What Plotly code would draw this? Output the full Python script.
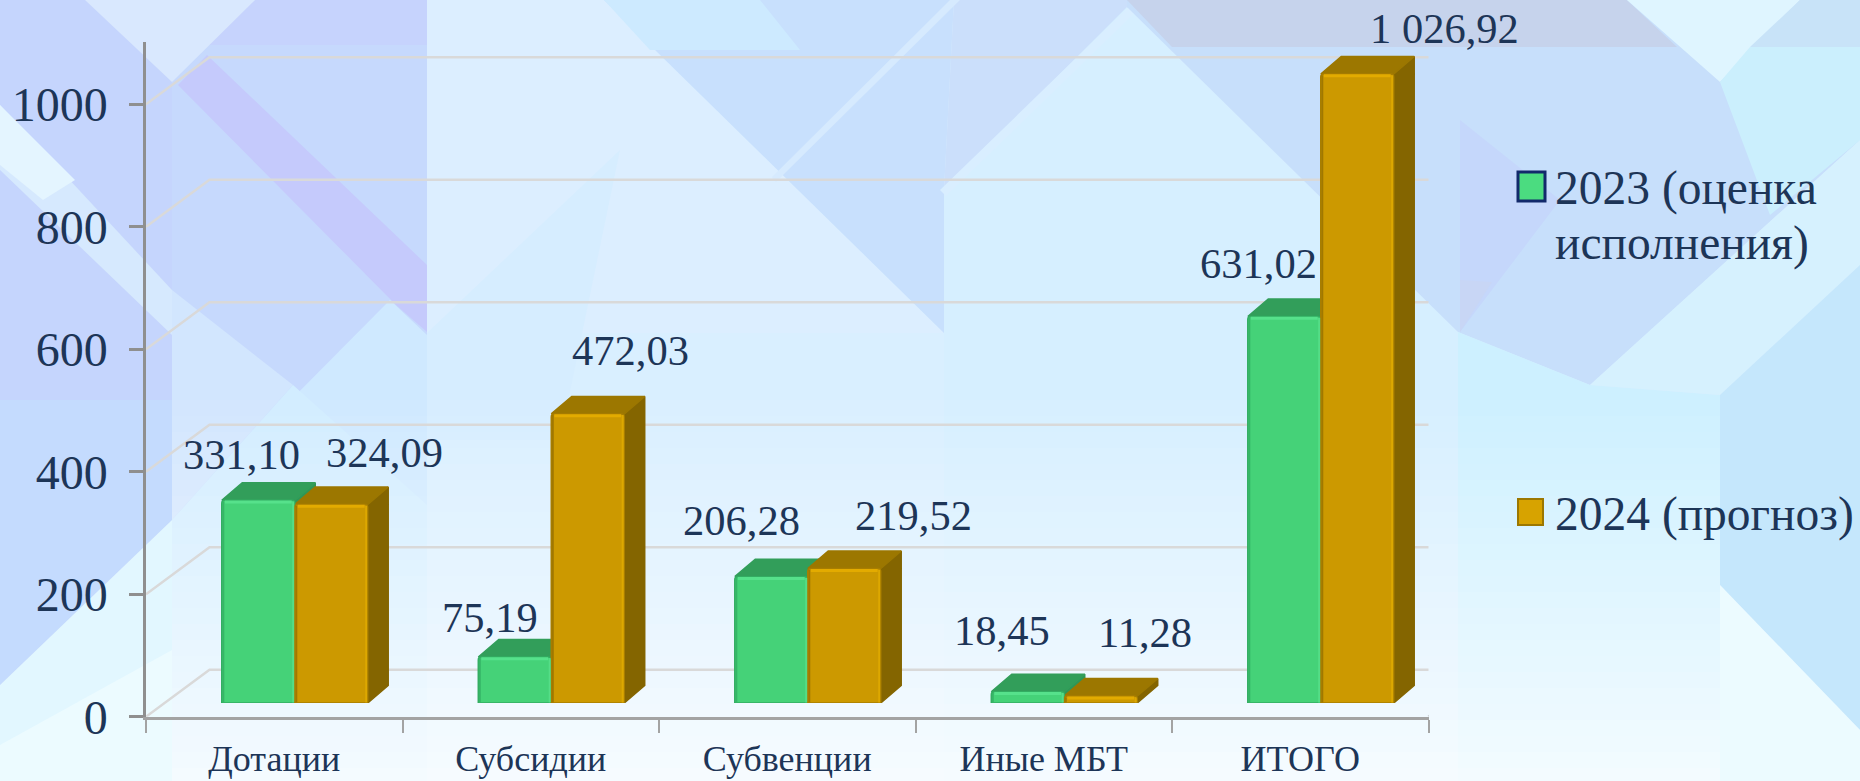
import plotly.graph_objects as go

# ---------- data ----------
categories = ["Дотации", "Субсидии", "Субвенции", "Иные МБТ", "ИТОГО"]
values_2023 = [331.10, 75.19, 206.28, 18.45, 631.02]
values_2024 = [324.09, 472.03, 219.52, 11.28, 1026.92]
labels_2023 = ["331,10", "75,19", "206,28", "18,45", "631,02"]
labels_2024 = ["324,09", "472,03", "219,52", "11,28", "1 026,92"]
y_ticks = [0, 200, 400, 600, 800, 1000]
legend_2023 = ["2023 (оценка", "исполнения)"]
legend_2024 = "2024 (прогноз)"

# ---------- layout constants ----------
W, H = 1860, 781
FONT = "Liberation Serif"
INK = "#1d3557"
AX_L, AX_R = 146.0, 1428.5      # front plane, x
Y0, Y_TOP = 716.7, 42.0         # front plane, y of value 0 and axis top
PX = 0.6125                     # pixels per unit
CAT = (AX_R - AX_L) / 5
Y_MAX = (Y0 - Y_TOP) / PX
WALL_DX, WALL_DY = 63.5 / CAT, 47.0 / PX
BAR_SHIFT_X, BAR_SHIFT_Y = 20.5, 13.7
BAR_W = 0.2845
FACE_DX, FACE_DY = 20.5 / CAT, 17.5 / PX
GREEN, GREEN_TOP, GREEN_SIDE = "#45d278", "#329e5a", "#2f9656"
GOLD, GOLD_TOP, GOLD_SIDE = "#cc9900", "#9c7700", "#846500"


def px_x(v):
    return v / W


def px_y(v):
    return 1 - v / H


# ---------- background (decorative pattern, pixel polygons) ----------
BG = [
    # left column
    ((0, 0, 172, 0, 172, 781, 0, 781), "#c5d5fd"),
    ((0, 400, 172, 400, 172, 520, 0, 685), "#c4dbfe"),
    ((0, 105, 172, 290, 172, 335, 0, 170), "#d6e9fe"),
    ((0, 105, 75, 180, 43, 200, 0, 165), "#e4f5ff"),
    ((0, 685, 172, 520, 172, 781, 0, 781), "#e2f7ff"),
    ((0, 745, 172, 650, 172, 781, 0, 781), "#ecfbff"),
    # upper block
    ((172, 0, 427, 0, 427, 560, 172, 520), "#c6d9fd"),
    ((255, 0, 427, 0, 427, 45, 200, 45), "#c6d3fd"),
    ((85, 0, 255, 0, 172, 82), "#d9e8fe"),
    ((172, 290, 293, 385, 172, 520), "#d2e6fe"),
    ((178, 85, 207, 55, 427, 265, 427, 332, 396, 305), "#c5cafc"),
    # lower left block
    ((172, 520, 390, 300, 427, 335, 427, 781, 172, 781), "#cfe9ff"),
    ((293, 385, 427, 505, 427, 781, 172, 781, 172, 520), "#d2edff"),
    # centre
    ((427, 0, 1132, 0, 1132, 781, 427, 781), "#d9efff"),
    ((427, 0, 604, 0, 944, 333, 427, 333), "#dceeff"),
    ((427, 333, 620, 150, 560, 440, 427, 440), "#d6edff"),
    ((604, 0, 954, 0, 944, 190, 944, 333), "#c8e0fd"),
    ((604, 0, 760, 0, 800, 50, 650, 50), "#cdeaff"),
    ((954, 0, 1142, 0, 944, 190), "#cbdffb"),
    ((944, 190, 1127, 7, 1320, 197, 1458, 332, 1458, 781, 944, 781), "#d6efff"),
    # pale hairline bands
    ((772, 177, 776, 182, 960, 0, 950, 0), "#d6eafe"),
    ((940, 190, 946, 196, 1148, 0, 1136, 0), "#d9eeff"),
    # big right diamond
    ((1127, 7, 1127, 0, 1860, 0, 1860, 140, 1590, 385, 1458, 332), "#c7dffb"),
    ((1127, 0, 1627, 0, 1677, 47, 1172, 47), "#c6d3ec"),
    ((1460, 120, 1560, 200, 1460, 332), "#c5d7fb"),
    ((1460, 280, 1492, 282, 1460, 332), "#c8d6f5"),
    # lower right
    ((1458, 332, 1590, 385, 1720, 395, 1720, 781, 1458, 781), "#cdf0ff"),
    ((1590, 385, 1860, 140, 1860, 265, 1720, 395), "#d6f1fe"),
    ((1627, 0, 1800, 0, 1720, 82), "#dff5ff"),
    ((1800, 0, 1860, 0, 1860, 47, 1750, 47), "#c8e3f8"),
    ((1720, 82, 1750, 47, 1860, 47, 1860, 140, 1770, 215), "#cbeffd"),
    ((1720, 395, 1860, 265, 1860, 730, 1720, 585), "#c5e7fc"),
    ((1720, 585, 1860, 730, 1860, 781, 1720, 781), "#ecfbff"),
]
shapes = []
for pts, color in BG:
    path = "M" + " L".join(
        f"{px_x(pts[i]):.5f},{px_y(pts[i + 1]):.5f}" for i in range(0, len(pts), 2)
    ) + " Z"
    shapes.append(dict(type="path", xref="paper", yref="paper", path=path,
                       fillcolor=color, line_width=0, layer="below"))
# brightening towards the bottom of the plot area: separate strips
STRIP_TOP, STRIP_H, STRIPS = 400, 16, 24
for k in range(STRIPS):
    top = STRIP_TOP + k * STRIP_H
    shapes.append(dict(type="rect", xref="paper", yref="paper", layer="below",
                       x0=px_x(172), x1=px_x(1720),
                       y0=max(px_y(top + STRIP_H), 0), y1=px_y(top),
                       fillcolor=f"rgba(255,255,255,{0.03 + 0.72 * k / (STRIPS - 1):.3f})",
                       line_width=0))

# legend markers
shapes += [
    dict(type="rect", xref="paper", yref="paper", x0=px_x(1518), x1=px_x(1545),
         y0=px_y(201), y1=px_y(172), fillcolor="#4bdc80",
         line=dict(color="#12296b", width=3)),
    dict(type="rect", xref="paper", yref="paper", x0=px_x(1518), x1=px_x(1543),
         y0=px_y(525), y1=px_y(499), fillcolor="#d7a300",
         line=dict(color="#9c7700", width=2)),
]

fig = go.Figure()

# ---------- walls and grid (front-plane axes) ----------
wall_x, wall_y = [], []
for t in y_ticks:
    wall_x += [-0.5, -0.5 + WALL_DX, 4.5 + WALL_DX, None]
    wall_y += [t, t + WALL_DY, t + WALL_DY, None]
fig.add_trace(go.Scatter(x=wall_x, y=wall_y, mode="lines", cliponaxis=False,
                         line=dict(color="#d9d9d9", width=2.5), hoverinfo="skip",
                         showlegend=False, xaxis="x", yaxis="y"))
fig.add_trace(go.Scatter(x=[4.5, 4.5 + WALL_DX], y=[0, WALL_DY], mode="lines",
                         cliponaxis=False, line=dict(color="#a3a3a3", width=2.5),
                         hoverinfo="skip", showlegend=False, xaxis="x", yaxis="y"))


# ---------- bar side and top faces ----------
def faces(values, x_left):
    sx, sy, tx, ty = [], [], [], []
    for i, v in enumerate(values):
        x0 = i + x_left
        x1 = x0 + BAR_W
        sx += [x1, x1 + FACE_DX, x1 + FACE_DX, x1, x1, None]
        sy += [0, FACE_DY, v + FACE_DY, v, 0, None]
        tx += [x0, x1, x1 + FACE_DX, x0 + FACE_DX, x0, None]
        ty += [v, v, v + FACE_DY, v + FACE_DY, v, None]
    return sx, sy, tx, ty


for values, x_left, side, top in (
    (values_2023, -BAR_W, GREEN_SIDE, GREEN_TOP),
    (values_2024, 0.0, GOLD_SIDE, GOLD_TOP),
):
    sx, sy, tx, ty = faces(values, x_left)
    fig.add_trace(go.Scatter(x=sx, y=sy, mode="lines", fill="toself", fillcolor=side,
                             line=dict(color=side, width=1.5), cliponaxis=False,
                             hoverinfo="skip", showlegend=False, xaxis="x2", yaxis="y2"))
    fig.add_trace(go.Scatter(x=tx, y=ty, mode="lines", fill="toself", fillcolor=top,
                             line=dict(color=top, width=1.5), cliponaxis=False,
                             hoverinfo="skip", showlegend=False, xaxis="x2", yaxis="y2"))

# ---------- bar fronts ----------
xs = list(range(len(categories)))
fig.add_trace(go.Bar(x=xs, y=values_2023, name="2023 (оценка исполнения)",
                     marker=dict(color=GREEN, line=dict(color="#33ad62", width=1.5),
                                 cornerradius=3),
                     showlegend=False, xaxis="x3", yaxis="y3", cliponaxis=False))
fig.add_trace(go.Bar(x=xs, y=values_2024, name="2024 (прогноз)",
                     marker=dict(color=GOLD, line=dict(color="#a87e00", width=1.5),
                                 cornerradius=3),
                     showlegend=False, xaxis="x3", yaxis="y3", cliponaxis=False))


# bevel lines along the bar edges
def bevel(values, x_left, where):
    ex, ey = [], []
    for i, v in enumerate(values):
        x0 = i + x_left
        if where == "top":
            ex += [x0 + 0.012, x0 + BAR_W - 0.012, None]
            ey += [v - 3, v - 3, None]
        elif where == "left":
            ex += [x0 + 0.006, x0 + 0.006, None]
            ey += [1, v - 2, None]
        else:
            ex += [x0 + BAR_W - 0.006, x0 + BAR_W - 0.006, None]
            ey += [1, v - 2, None]
    return ex, ey


for values, x_left, left_c, right_c, top_c in (
    (values_2023, -BAR_W, "#36b567", "#55dd88", "#56e18b"),
    (values_2024, 0.0, "#a07800", "#dda800", "#e3ab00"),
):
    for where, color, width in (("left", left_c, 2), ("right", right_c, 2), ("top", top_c, 3)):
        ex, ey = bevel(values, x_left, where)
        fig.add_trace(go.Scatter(x=ex, y=ey, mode="lines", line=dict(color=color, width=width),
                                 hoverinfo="skip", showlegend=False, xaxis="x3", yaxis="y3"))

# ---------- texts ----------
label_pos_2023 = [(242, 454), (490, 617), (741, 520), (1002, 630), (1258, 263)]
label_pos_2024 = [(384, 453), (630, 350), (913, 515), (1145, 632), (1444, 28)]
annotations = []
for texts, positions in ((labels_2023, label_pos_2023), (labels_2024, label_pos_2024)):
    for text, (x, y) in zip(texts, positions):
        annotations.append(dict(text=text, x=px_x(x), y=px_y(y), xref="paper", yref="paper",
                                showarrow=False, xanchor="center", yanchor="middle",
                                font=dict(family=FONT, size=42.5, color=INK)))
for text, y in ((legend_2023[0], 189), (legend_2023[1], 244), (legend_2024, 514)):
    annotations.append(dict(text=text, x=px_x(1553), y=px_y(y), xref="paper", yref="paper",
                            showarrow=False, xanchor="left", yanchor="middle",
                            font=dict(family=FONT, size=47.5, color=INK)))

# ---------- axes ----------
dom_x = [px_x(AX_L), px_x(AX_R)]
dom_y = [px_y(Y0), px_y(Y_TOP)]
dom_x2 = [px_x(AX_L + BAR_SHIFT_X), px_x(AX_R + BAR_SHIFT_X)]
dom_y2 = [px_y(Y0 - BAR_SHIFT_Y), px_y(Y_TOP - BAR_SHIFT_Y)]
hidden = dict(visible=False, fixedrange=True)

fig.update_layout(
    width=W, height=H, margin=dict(l=0, r=0, t=0, b=0, autoexpand=False),
    paper_bgcolor="#d6ecff", plot_bgcolor="rgba(0,0,0,0)",
    barmode="group", bargap=0.431, bargroupgap=0, showlegend=False,
    shapes=shapes, annotations=annotations,
    font=dict(family=FONT, color=INK),
    xaxis=dict(domain=dom_x, range=[-0.5, 4.5], tickmode="array", tickvals=xs,
               ticktext=categories, ticks="outside", ticklen=13, automargin=False,
               ticklabelstandoff=-5,
               tickcolor="rgba(0,0,0,0)", tickfont=dict(family=FONT, size=36, color=INK),
               showline=True, linecolor="#a3a3a3", linewidth=3, showgrid=False,
               zeroline=False, fixedrange=True,
               minor=dict(tickmode="array", tickvals=[-0.5, 0.5, 1.5, 2.5, 3.5, 4.5],
                          ticks="outside", ticklen=13, tickcolor="#a3a3a3", tickwidth=2,
                          showgrid=False)),
    yaxis=dict(domain=dom_y, range=[0, Y_MAX], tickmode="array", tickvals=y_ticks,
               ticks="outside", ticklen=14, tickwidth=2.5, tickcolor="#8f8f8f",
               ticklabelstandoff=12, automargin=False,
               tickfont=dict(family=FONT, size=48, color=INK),
               showline=True, linecolor="#8f8f8f", linewidth=2.5, showgrid=False,
               zeroline=False, fixedrange=True),
    xaxis2=dict(domain=dom_x2, range=[-0.5, 4.5], anchor="y2", **hidden),
    yaxis2=dict(domain=dom_y2, range=[0, Y_MAX], anchor="x2", **hidden),
    xaxis3=dict(domain=dom_x2, range=[-0.5, 4.5], anchor="y3", **hidden),
    yaxis3=dict(domain=dom_y2, range=[0, Y_MAX], anchor="x3", **hidden),
)

fig.write_html("out.html", config={"displayModeBar": False},
               post_script="document.body.style.margin='0';document.body.style.overflow='hidden';")
